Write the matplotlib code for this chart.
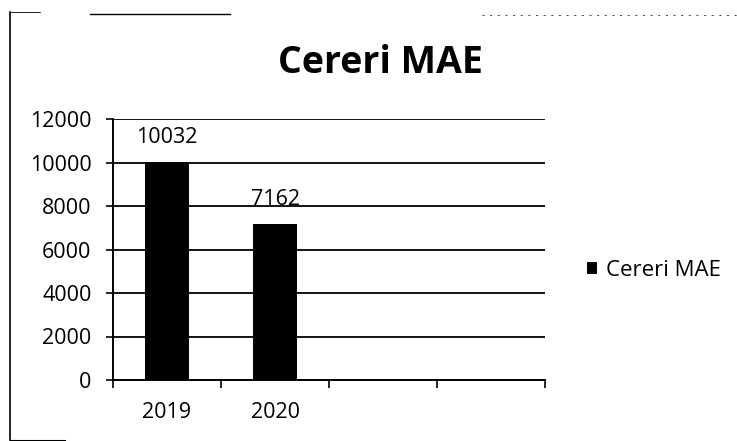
import matplotlib.pyplot as plt
from matplotlib.lines import Line2D

# data
categories = ['2019', '2020', '', '']
values = [10032, 7162, None, None]
series_name = 'Cereri MAE'
title = 'Cereri MAE'
yticks = [0, 2000, 4000, 6000, 8000, 10000, 12000]

plt.rcParams['font.family'] = ['Open Sans', 'DejaVu Sans']

fig = plt.figure(figsize=(7.37, 4.41), dpi=100)
ax = fig.add_axes([113/737, 1-380/441, 432/737, 261/441])

xs = [i for i, v in enumerate(values) if v is not None]
vs = [v for v in values if v is not None]
bars = ax.bar(xs, vs, width=0.41, color='black', label=series_name, zorder=3)

for x, v in zip(xs, vs):
    ax.annotate(str(v), (x, v), xytext=(0, 10), textcoords='offset points',
                ha='center', va='bottom', fontsize=15.5, color='black')

ax.set_xlim(-0.5, len(categories) - 0.5)
ax.set_ylim(0, 12000)
ax.set_yticks(yticks)
ax.set_yticklabels([str(t) for t in yticks], fontsize=15.5)
ax.yaxis.grid(True, color='black', linewidth=1.3, zorder=0)
ax.set_axisbelow(True)

# category labels centered, tick marks on boundaries
ax.set_xticks(range(len(categories)))
ax.set_xticklabels(categories, fontsize=15.5)
ax.tick_params(axis='x', which='major', length=0, pad=16)
ax.set_xticks([i - 0.5 for i in range(len(categories) + 1)], minor=True)
ax.tick_params(axis='x', which='minor', length=6, width=1.2, direction='out')
ax.tick_params(axis='y', length=5, width=1.2, direction='out', pad=10.5)

for s in ['top', 'right']:
    ax.spines[s].set_visible(False)
for s in ['left', 'bottom']:
    ax.spines[s].set_linewidth(1.4)

fig.text(380/737, 1-63/441, title, ha='center', va='center',
         fontsize=27, fontweight='bold')

fig.legend(handles=[bars], labels=[series_name], loc='center left',
           bbox_to_anchor=(587/737, 1-270/441), frameon=False, fontsize=16,
           borderpad=0, borderaxespad=0,
           handlelength=0.45, handleheight=0.45, handletextpad=0.4)

# scanned frame remnants
fig.add_artist(Line2D([10/737, 10/737], [1-440/441, 1-12/441], color='black', lw=1.2))
fig.add_artist(Line2D([10/737, 65/737], [1-440/441, 1-440/441], color='black', lw=0.8))
fig.add_artist(Line2D([90/737, 230/737], [1-14/441, 1-14/441], color='black', lw=1.0))
fig.add_artist(Line2D([10/737, 40/737], [1-12/441, 1-12/441], color='black', lw=0.6))
fig.add_artist(Line2D([482/737, 737/737], [1-15/441, 1-15/441], color='black', lw=0.5,
                      linestyle=(0, (3, 8))))

fig.savefig('out.png', dpi=100)
